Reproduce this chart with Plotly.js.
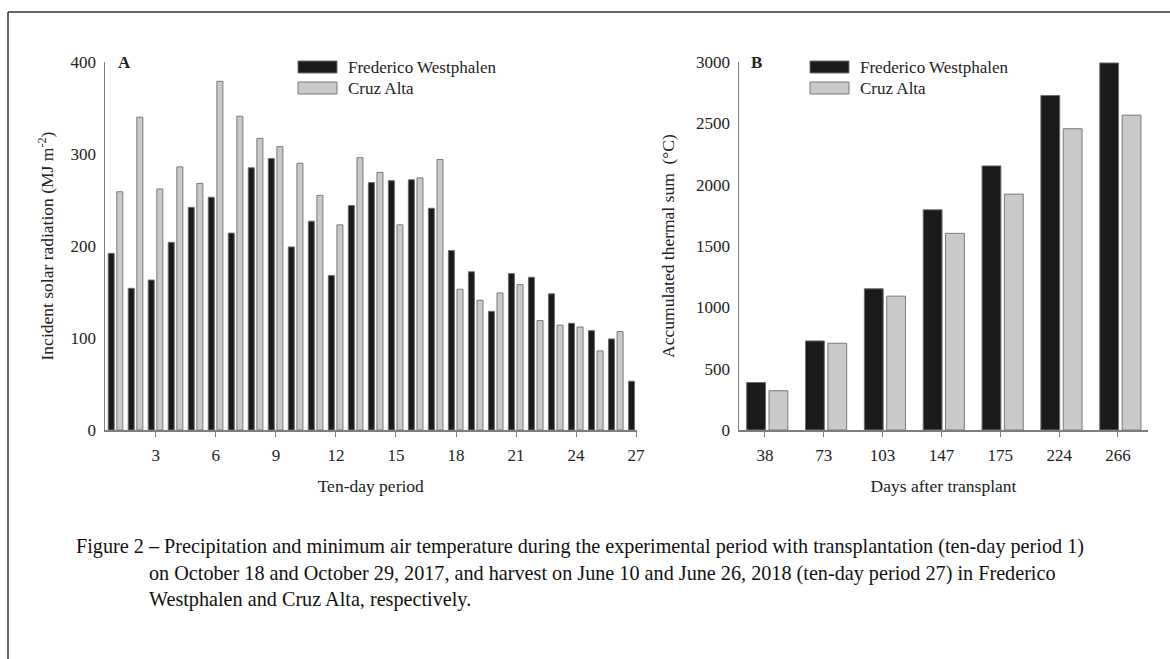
<!DOCTYPE html>
<html>
<head>
<meta charset="utf-8">
<script src="https://cdn.plot.ly/plotly-3.0.1.min.js"></script>
<style>
html,body{margin:0;padding:0;background:#fff;}
#chart{width:1170px;height:659px;}
</style>
</head>
<body>
<div id="chart"></div>
<script>
// ---- Data ----
const periods = [1,2,3,4,5,6,7,8,9,10,11,12,13,14,15,16,17,18,19,20,21,22,23,24,25,26,27];
const periodTicks = [3,6,9,12,15,18,21,24,27];
const periodTickLabels = ['3','6','9','12','15','18','21','24','27'];
const radiationFW = [192,154,163,204,242,253,214,285,295,199,227,168,244,269,271,272,241,195,172,129,170,166,148,116,108,99,53];
const radiationCA = [259,340,262,286,268,379,341,317,308,290,255,223,296,280,223,274,294,153,141,149,158,119,114,112,86,107,null];

const daysAfterTransplant = ['38','73','103','147','175','224','266'];
const thermalFW = [387,726,1151,1795,2153,2727,2992];
const thermalCA = [320,707,1091,1603,1923,2456,2567];

const radiationTicks = [0,100,200,300,400];
const thermalTicks = [0,500,1000,1500,2000,2500,3000];

const seriesNames = ['Frederico Westphalen','Cruz Alta'];

// ---- Styles ----
const W = 1170, H = 659;
const px = v => v / W;
const py = v => 1 - v / H;
const serif = 'Liberation Serif, Times New Roman, serif';
const darkFill = '#1a1a1a', darkLine = '#6e6e6e';
const greyFill = '#c9c9c9', greyLine = '#7a7a7a';
const axisCol = '#7d7d7d';
const txt = '#222';

const traces = [
  {type:'bar', name:seriesNames[0], x:periods, y:radiationFW, xaxis:'x', yaxis:'y',
   width:0.3, offset:-0.38,
   marker:{color:darkFill, line:{color:darkLine, width:1}}, showlegend:false, hoverinfo:'x+y'},
  {type:'bar', name:seriesNames[1], x:periods, y:radiationCA, xaxis:'x', yaxis:'y',
   width:0.3, offset:0.05,
   marker:{color:greyFill, line:{color:greyLine, width:1}}, showlegend:false, hoverinfo:'x+y'},
  {type:'bar', name:seriesNames[0], x:daysAfterTransplant, y:thermalFW, xaxis:'x2', yaxis:'y2',
   width:0.32, offset:-0.31,
   marker:{color:darkFill, line:{color:darkLine, width:1}}, showlegend:false, hoverinfo:'x+y'},
  {type:'bar', name:seriesNames[1], x:daysAfterTransplant, y:thermalCA, xaxis:'x2', yaxis:'y2',
   width:0.32, offset:0.07,
   marker:{color:greyFill, line:{color:greyLine, width:1}}, showlegend:false, hoverinfo:'x+y'}
];

const tickFont = {family:serif, size:17, color:txt};
const titleFont = {family:serif, size:17.5, color:txt};
const legFont = {family:serif, size:17, color:txt};
const capFont = {family:serif, size:20.2, color:'#111'};

const yDomain = [py(430), py(62)];

function ann(text, x, y, font, anchor) {
  return {text:text, xref:'paper', yref:'paper', x:px(x), y:py(y), xanchor:anchor || 'left',
          yanchor:'middle', showarrow:false, font:font};
}

const layout = {
  width:W, height:H,
  margin:{l:0,r:0,t:0,b:0},
  paper_bgcolor:'#fff', plot_bgcolor:'#fff',
  barmode:'group',
  showlegend:false,
  xaxis:{domain:[px(105), px(636.5)], range:[0.46, 27.02], tickmode:'array',
    tickvals:periodTicks, ticktext:periodTickLabels, ticks:'outside', ticklen:5, tickcolor:axisCol,
    showline:true, linecolor:axisCol, linewidth:1.5, showgrid:false, zeroline:false,
    tickfont:tickFont, ticklabelstandoff:4,
    title:{text:'Ten-day period', font:titleFont, standoff:16}},
  yaxis:{domain:yDomain, range:[0,400], tickmode:'array', tickvals:radiationTicks,
    ticks:'', showline:true, linecolor:axisCol, linewidth:1.5, showgrid:false, zeroline:false,
    tickfont:tickFont, ticklabelstandoff:4,
    title:{text:'Incident solar radiation (MJ m<sup>-2</sup>)', font:titleFont, standoff:12}},
  xaxis2:{domain:[px(739), px(1148)], range:[-0.44, 6.51], type:'category',
    ticks:'outside', ticklen:5, tickcolor:axisCol,
    showline:true, linecolor:axisCol, linewidth:1.5, showgrid:false, zeroline:false,
    tickfont:tickFont, ticklabelstandoff:4, anchor:'y2',
    title:{text:'Days after transplant', font:titleFont, standoff:16}},
  yaxis2:{domain:yDomain, range:[0,3000], tickmode:'array', tickvals:thermalTicks, anchor:'x2',
    ticks:'', showline:true, linecolor:axisCol, linewidth:1.5, showgrid:false, zeroline:false,
    tickfont:tickFont, ticklabelstandoff:4,
    title:{text:'Accumulated thermal sum  (°C)', font:titleFont, standoff:17}},
  shapes:[
    // frame
    {type:'line', xref:'paper', yref:'paper', x0:px(8), x1:1, y0:py(12), y1:py(12), line:{color:'#333', width:1.5}},
    {type:'line', xref:'paper', yref:'paper', x0:px(8), x1:px(8), y0:py(12), y1:0, line:{color:'#333', width:1.5}},
    // legend A swatches
    {type:'rect', xref:'paper', yref:'paper', x0:px(298), x1:px(337), y0:py(73), y1:py(61), fillcolor:darkFill, line:{color:darkLine, width:1}},
    {type:'rect', xref:'paper', yref:'paper', x0:px(298), x1:px(337), y0:py(94), y1:py(82), fillcolor:greyFill, line:{color:greyLine, width:1}},
    // legend B swatches
    {type:'rect', xref:'paper', yref:'paper', x0:px(810), x1:px(849), y0:py(73), y1:py(61), fillcolor:darkFill, line:{color:darkLine, width:1}},
    {type:'rect', xref:'paper', yref:'paper', x0:px(810), x1:px(849), y0:py(94), y1:py(82), fillcolor:greyFill, line:{color:greyLine, width:1}}
  ],
  annotations:[
    ann('<b>A</b>', 116, 62, {family:serif, size:17, color:txt}),
    ann('<b>B</b>', 749, 62, {family:serif, size:17, color:txt}),
    ann(seriesNames[0], 346, 67, legFont),
    ann(seriesNames[1], 346, 89, legFont),
    ann(seriesNames[0], 858, 67, legFont),
    ann(seriesNames[1], 858, 89, legFont),
    ann('Figure 2 – Precipitation and minimum air temperature during the experimental period with transplantation (ten-day period 1)', 74, 546, capFont),
    ann('on October 18 and October 29, 2017, and harvest on June 10 and June 26, 2018 (ten-day period 27) in Frederico', 147, 573, capFont),
    ann('Westphalen and Cruz Alta, respectively.', 147, 599, capFont)
  ]
};

Plotly.newPlot('chart', traces, layout, {displayModeBar:false, staticPlot:true});
</script>
</body>
</html>
